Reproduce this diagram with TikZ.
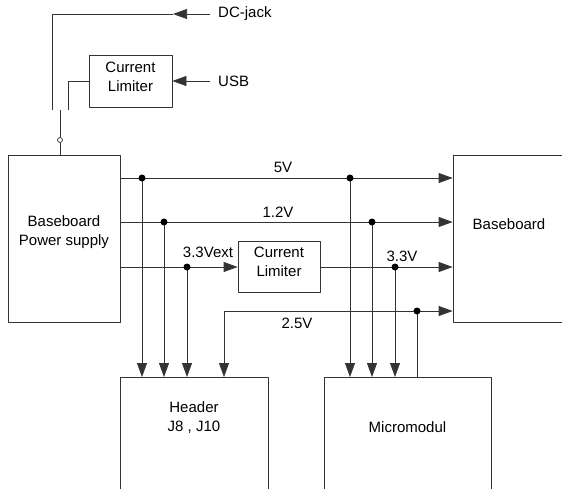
\documentclass[tikz,border=0pt]{standalone}
\usepackage{fontspec}
\setmainfont{Liberation Sans}
\usetikzlibrary{arrows.meta}
\begin{document}
\begin{tikzpicture}[x=1pt,y=-1pt,line join=round,
  blk/.style={draw=black!80,line width=.75pt,inner sep=0pt},
  lbl/.style={inner sep=0pt,align=center,font=\fontsize{15}{19}\selectfont},
  wire/.style={draw=black!80,line width=.75pt},
  feed/.style={wire,-{Triangle[length=14pt,width=10pt]}},
  dot/.style={circle,fill=black,inner sep=0pt,minimum size=7pt}]
\useasboundingbox (0,0) rectangle (562,488);
\clip (0,0) rectangle (562,488);
\node (psu) [blk,minimum width=112,minimum height=167,label={[lbl,yshift=6.5pt]center:{Baseboard\\Power supply}}] at (64,238.5) {};
\node (base) [blk,minimum width=147,minimum height=167] at (526.5,238.5) {};
\node (basetxt) [lbl] at (509,224) {Baseboard};
\node (hdr) [blk,minimum width=148,minimum height=150,anchor=north] at (194,377) {};
\node (hdrtxt) [lbl] at (194,418) {Header\\J8 , J10};
\node (mm) [blk,minimum width=167,minimum height=150,anchor=north] at (407.5,377) {};
\node (mmtxt) [lbl] at (407.5,427) {Micromodul};
\node (lim1) [blk,minimum width=83,minimum height=52,label={[lbl,yshift=4.5pt]center:{Current\\Limiter}}] at (130.5,81) {};
\node (lim2) [blk,minimum width=82,minimum height=51,label={[lbl,yshift=5pt]center:{Current\\Limiter}}] at (279,267) {};
\node (dcjack) [lbl,anchor=west] at (218,14) {DC-jack};
\node (usb) [lbl,anchor=west] at (218,81) {USB};
\node (sw) [circle,draw=black!80,line width=.75pt,fill=white,inner sep=0pt,minimum size=5pt] at (60,140) {};
\coordinate (tipdc) at (173,14);
\coordinate (swa) at (52,110);
\coordinate (swb) at (68,110);
\coordinate (swc) at (60,110);
\draw[feed] ([xshift=-8pt]dcjack.west) -- (tipdc);
\draw[wire] (tipdc) -| (swa);
\draw[feed] ([xshift=-8pt]usb.west) -- (lim1.east);
\draw[wire] (lim1.west) -| (swb);
\draw[wire] (swc) -- (sw.north);
\draw[wire] (sw.south) -- (sw |- psu.north);
\coordinate (j5a) at (142,178);
\coordinate (j5b) at (350,178);
\coordinate (j12a) at (164,222);
\coordinate (j12b) at (372,222);
\coordinate (j33a) at (187,267);
\coordinate (j33b) at (395,267);
\coordinate (t25) at (224,311);
\coordinate (j25) at (417,311);
\draw[feed] (psu.east |- j5a) -- (base.west |- j5a);
\draw[feed] (psu.east |- j12a) -- (base.west |- j12a);
\draw[feed] (psu.east |- j33a) -- (lim2.west);
\draw[feed] (lim2.east) -- (base.west |- j33b);
\draw[feed] (t25) -- (base.west |- t25);
\draw[feed] (t25) -- (t25 |- hdr.north);
\draw[wire] (j25) -- (j25 |- mm.north);
\foreach \j in {j5a,j12a,j33a}
  \draw[feed] (\j) -- (\j |- hdr.north);
\foreach \j in {j5b,j12b,j33b}
  \draw[feed] (\j) -- (\j |- mm.north);
\foreach \j in {j5a,j5b,j12a,j12b,j33a,j33b,j25}
  \node[dot] at (\j) {};
\node (l5) [lbl] at (283,167) {5V};
\node (l12) [lbl] at (278,212) {1.2V};
\node (l33x) [lbl] at (208,252) {3.3Vext};
\node (l33) [lbl] at (402,256) {3.3V};
\node (l25) [lbl] at (297,323) {2.5V};
\end{tikzpicture}
\end{document}
